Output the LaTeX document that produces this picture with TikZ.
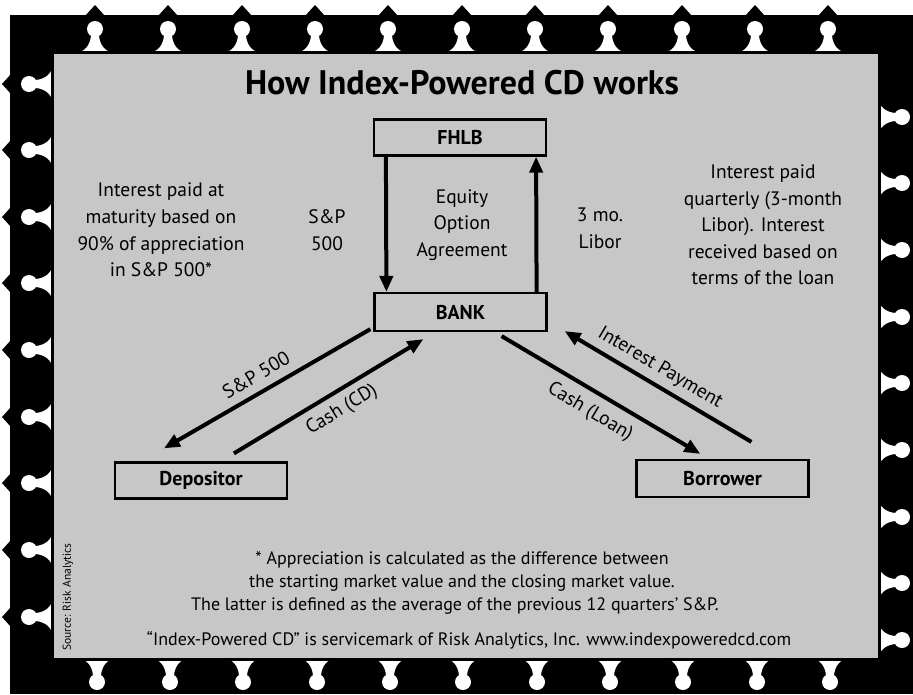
\documentclass[tikz,border=0pt]{standalone}
\usepackage{fontspec}
\setmainfont{PT Sans}
\usetikzlibrary{arrows.meta,calc}
\begin{document}
\begin{tikzpicture}[x=1pt,y=-1pt,
  lbl/.style={font=\fontsize{19.5}{26.6}\selectfont, align=center, inner sep=0pt},
  fn/.style={font=\fontsize{18}{22}\selectfont, inner sep=0pt},
  boxnode/.style={draw, line width=2.2pt, minimum width=172pt, minimum height=36pt, font=\bfseries\fontsize{20}{24}\selectfont, inner sep=0pt},
  arr/.style={line width=4pt, -{Triangle[length=16pt,width=13pt]}},
  keytab/.pic={
    \fill[white] (-22,1) .. controls (-9,1) and (-5,-8) .. (-4,-16) -- (4,-16) .. controls (5,-8) and (9,1) .. (22,1) -- cycle;
    \fill[white] (0,-23) circle (8);
  }]
\useasboundingbox (0,0) rectangle (913,694);
\fill[white] (0,0) rectangle (913,694);
% black frame
\fill[black] (10,15) rectangle (913,694);
\foreach \x in {95,168,242,315,388,462,535,608,682,755,828}{
  \fill[black] (\x-10,16) -- (\x,5) -- (\x+10,16) -- cycle;
  \pic at (\x,52) {keytab};
}
\foreach \y in {84,150,217,283,350,417,483,550,617}{
  \fill[black] (11,\y-10) -- (2,\y) -- (11,\y+10) -- cycle;
  \pic[rotate=90] at (52,\y) {keytab};
}
\foreach \y in {117,183,250,317,383,450,517,583,640}{
  \pic[rotate=-90] at (879,\y) {keytab};
}
\foreach \x in {97,170,243,317,390,463,537,610,683,757,830}{
  \pic[rotate=180] at (\x,659) {keytab};
}
% panel
\filldraw[fill=black!22, draw=black, line width=3pt] (52,52) rectangle (879,659);

% title
\node[font=\bfseries\fontsize{34}{40}\selectfont, inner sep=0pt] (title) at (462,83) {How Index-Powered CD works};

% boxes
\node[boxnode] (fhlb) at (460,137.5) {FHLB};
\node[boxnode, minimum height=38pt] (bank) at (460.5,312) {BANK};
\node[boxnode] (dep) at (201,480.5) {Depositor};
\node[boxnode, minimum height=37pt] (bor) at (722.5,478.5) {Borrower};

% texts
\node[lbl] (eq) at (462,225) {Equity\\Option\\Agreement};
\node[lbl] (lefttxt) at (161,230) {Interest paid at\\maturity based on\\90\% of appreciation\\in S\&P 500*};
\node[lbl] (sp) at (327,230) {S\&P\\500};
\node[lbl] (libor) at (600,228) {3 mo.\\Libor};
\node[lbl] (righttxt) at (763,225) {Interest paid\\quarterly (3-month\\Libor). Interest\\received based on\\terms of the loan};

% arrows
\draw[arr] ([xshift=13pt]fhlb.south west) -- ([xshift=13pt]bank.north west);
\draw[arr] ([xshift=-11pt]bank.north east) -- ([xshift=-11pt]fhlb.south east);
\draw[arr] ($(bank.south west)+(-3,-3)$) -- ($(dep.north west)+(50,-13)$);
\draw[arr] ($(dep.north west)+(120,-8)$) -- ($(bank.south west)+(50,7)$);
\draw[arr] ($(bank.south east)+(-46,4)$) -- ($(bor.north west)+(65,-5)$);
\draw[arr] ($(bor.north west)+(116,-17)$) -- ($(bank.south east)+(17,-1)$);

% arrow labels
\node[lbl, rotate=30.5] (l1) at (256,375) {S\&P 500};
\node[lbl, rotate=31.5] (l2) at (342,410) {Cash (CD)};
\node[lbl, rotate=-30.7] (l3) at (590,412) {Cash (Loan)};
\node[lbl, rotate=-30.7] (l4) at (660,368) {Interest Payment};

% footnotes
\node[fn] (f1) at (462,560) {* Appreciation is calculated as the difference between};
\node[fn] (f2) at (462,583) {the starting market value and the closing market value.};
\node[fn] (f3) at (455,606) {The latter is defined as the average of the previous 12 quarters' S\&P.};
\node[fn] (f4) at (469,640) {``Index-Powered CD'' is servicemark of Risk Analytics, Inc. www.indexpoweredcd.com};
\node[font=\fontsize{11.5}{13}\selectfont, rotate=90, inner sep=0pt] (src) at (68,597) {Source: Risk Analytics};
\end{tikzpicture}
\end{document}
